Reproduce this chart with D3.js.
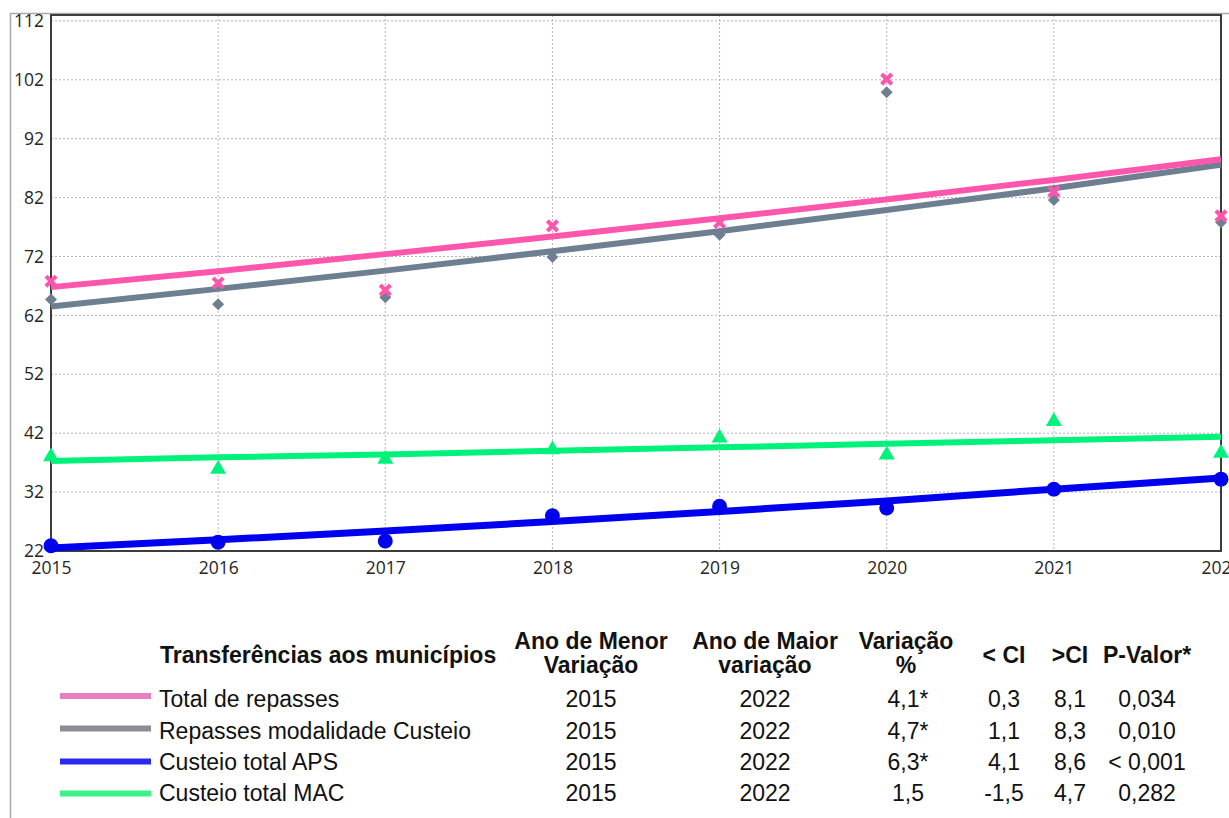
<!DOCTYPE html>
<html>
<head>
<meta charset="utf-8">
<script src="https://cdn.jsdelivr.net/npm/d3@7"></script>
<style>
  body { margin: 0; background: #fff; }
  svg { display: block; }
  .tbl { font-family: "Liberation Sans", Arial, sans-serif; font-size: 23px; fill: #111; }
  .tbl-head { font-weight: bold; }
</style>
</head>
<body>
<script>
// years on the x axis
var years = [2015, 2016, 2017, 2018, 2019, 2020, 2021, 2022];
var yTicks = [22, 32, 42, 52, 62, 72, 82, 92, 102, 112];

// observed values (markers)
var totalRepasses   = [67.8, 67.5, 66.3, 77.2, 77.8, 102.1, 83.0, 78.9];
var repassesCusteio = [64.7, 63.9, 65.1, 71.9, 75.7, 99.9, 81.6, 77.8];
var custeioAPS      = [22.9, 23.5, 23.7, 28.0, 29.6, 29.3, 32.5, 34.2];
var custeioMAC      = [38.0, 35.9, 37.6, 39.2, 41.2, 38.3, 44.0, 38.6];

// fitted trend lines, read at each year
var trendTotal   = [66.8, 69.5, 72.4, 75.4, 78.5, 81.7, 85.0, 88.5];
var trendCusteio = [63.5, 66.5, 69.6, 72.9, 76.3, 79.9, 83.6, 87.6];
var trendAPS     = [22.5, 23.9, 25.4, 27.0, 28.7, 30.5, 32.5, 34.4];
var trendMAC     = [37.3, 37.9, 38.4, 39.0, 39.6, 40.2, 40.8, 41.4];

// table below the chart
var tableHead = "Transferências aos municípios";
var seriesNames = ["Total de repasses", "Repasses modalidade Custeio", "Custeio total APS", "Custeio total MAC"];
var anoMenor = ["2015", "2015", "2015", "2015"];
var anoMaior = ["2022", "2022", "2022", "2022"];
var variacao = ["4,1*", "4,7*", "6,3*", "1,5"];
var ciLow    = ["0,3", "1,1", "4,1", "-1,5"];
var ciHigh   = ["8,1", "8,3", "8,6", "4,7"];
var pValor   = ["0,034", "0,010", "< 0,001", "0,282"];

var width = 1229, height = 818;
var plot = { left: 51, right: 1221, top: 15, bottom: 551 };

var svg = d3.select("body").append("svg")
  .attr("width", width)
  .attr("height", height);

var x = d3.scaleLinear().domain([2015, 2022]).range([plot.left, plot.right]);
var y = d3.scaleLinear().domain([22, 113]).range([plot.bottom, plot.top]);

// outer frame
svg.append("path")
  .attr("d", "M10.5,818 V13.5 H1229")
  .attr("fill", "none")
  .attr("stroke", "#a8a8a8")
  .attr("stroke-width", 1.5);

// grid
var grid = svg.append("g").attr("class", "grid");
grid.selectAll(".hgrid").data(yTicks).enter().append("line")
  .attr("x1", plot.left).attr("x2", plot.right)
  .attr("y1", function (d) { return y(d); })
  .attr("y2", function (d) { return y(d); })
  .attr("stroke", "#b4b4b4").attr("stroke-dasharray", "2,2");
grid.selectAll(".vgrid").data(years).enter().append("line")
  .attr("y1", plot.top).attr("y2", plot.bottom)
  .attr("x1", function (d) { return x(d); })
  .attr("x2", function (d) { return x(d); })
  .attr("stroke", "#b4b4b4").attr("stroke-dasharray", "2,2");

// axes (labels only, lines drawn by the frame)
function styleTicks(g) {
  g.select(".domain").remove();
  g.selectAll("text")
    .style("font-family", "'Open Sans', sans-serif")
    .style("font-size", "17.5px")
    .style("fill", "#262626");
}

var yAxis = d3.axisLeft(y).tickValues(yTicks).tickSize(0).tickPadding(7);
svg.append("g")
  .attr("transform", "translate(" + plot.left + ",0)")
  .call(yAxis)
  .call(styleTicks);

var xAxis = d3.axisBottom(x).tickValues(years).tickFormat(d3.format("d")).tickSize(0).tickPadding(11);
svg.append("g")
  .attr("transform", "translate(0," + plot.bottom + ")")
  .call(xAxis)
  .call(styleTicks);

// plot border
svg.append("rect")
  .attr("x", plot.left).attr("y", plot.top)
  .attr("width", plot.right - plot.left)
  .attr("height", plot.bottom - plot.top)
  .attr("fill", "none")
  .attr("stroke", "#2a2a2a")
  .attr("stroke-width", 1.8);

var series = [
  { obs: totalRepasses,   trend: trendTotal,   color: "#ff56ad", legend: "#e87fc1", width: 6, symbol: "x" },
  { obs: repassesCusteio, trend: trendCusteio, color: "#6e7f91", legend: "#8c8c94", width: 6, symbol: "diamond" },
  { obs: custeioAPS,      trend: trendAPS,     color: "#0000ee", legend: "#2a2aee", width: 7, symbol: "circle" },
  { obs: custeioMAC,      trend: trendMAC,     color: "#00f27b", legend: "#3cf08a", width: 6, symbol: "triangle" }
];

var line = d3.line()
  .x(function (d, i) { return x(years[i]); })
  .y(function (d) { return y(d); })
  .curve(d3.curveMonotoneX);

// trend lines, drawn bottom-up
[3, 2, 1, 0].forEach(function (k) {
  var s = series[k];
  svg.append("path")
    .attr("d", line(s.trend))
    .attr("fill", "none")
    .attr("stroke", s.color)
    .attr("stroke-width", s.width);
});

// markers
function drawMarkers(s) {
  var g = svg.append("g");
  var pts = g.selectAll("path").data(s.obs).enter().append("path")
    .attr("transform", function (d, i) {
      var r = (s.symbol == "diamond") ? " rotate(45)" : "";
      return "translate(" + x(years[i]) + "," + y(d) + ")" + r;
    });
  if (s.symbol == "x") {
    pts.attr("d", d3.symbol(d3.symbolX, 70)())
      .attr("fill", "none").attr("stroke", s.color).attr("stroke-width", 4.2);
  } else if (s.symbol == "diamond") {
    pts.attr("d", d3.symbol(d3.symbolSquare, 72)()).attr("fill", s.color);
  } else if (s.symbol == "circle") {
    pts.attr("d", d3.symbol(d3.symbolCircle, 175)()).attr("fill", s.color);
  } else {
    pts.attr("d", d3.symbol(d3.symbolTriangle, 110)()).attr("fill", s.color);
  }
}
drawMarkers(series[3]);
drawMarkers(series[2]);
drawMarkers(series[1]);
drawMarkers(series[0]);

// table
var cols = { menor: 591, maior: 765, varia: 906, low: 1004, high: 1070, p: 1147 };
var tbl = svg.append("g");

function txt(xp, yp, t, anchor, bold) {
  tbl.append("text")
    .attr("class", "tbl" + (bold ? " tbl-head" : ""))
    .attr("x", xp).attr("y", yp)
    .attr("text-anchor", anchor)
    .text(t);
}

txt(160, 663, tableHead, "start", true);
txt(cols.menor, 649, "Ano de Menor", "middle", true);
txt(cols.menor, 673, "Variação", "middle", true);
txt(cols.maior, 649, "Ano de Maior", "middle", true);
txt(cols.maior, 673, "variação", "middle", true);
txt(cols.varia, 649, "Variação", "middle", true);
txt(cols.varia, 673, "%", "middle", true);
txt(cols.low, 663, "< CI", "middle", true);
txt(cols.high, 663, ">CI", "middle", true);
txt(cols.p, 663, "P-Valor*", "middle", true);

var rowBase = [707, 738.5, 769.5, 801];
var legendY = [696, 728.5, 761.5, 793.5];

seriesNames.forEach(function (name, i) {
  tbl.append("line")
    .attr("x1", 60).attr("x2", 151)
    .attr("y1", legendY[i]).attr("y2", legendY[i])
    .attr("stroke", series[i].legend)
    .attr("stroke-width", 6);
  txt(159, rowBase[i], name, "start", false);
  txt(cols.menor, rowBase[i], anoMenor[i], "middle", false);
  txt(cols.maior, rowBase[i], anoMaior[i], "middle", false);
  txt(cols.varia + 2, rowBase[i], variacao[i], "middle", false);
  txt(cols.low, rowBase[i], ciLow[i], "middle", false);
  txt(cols.high, rowBase[i], ciHigh[i], "middle", false);
  txt(cols.p, rowBase[i], pValor[i], "middle", false);
});
</script>
</body>
</html>
